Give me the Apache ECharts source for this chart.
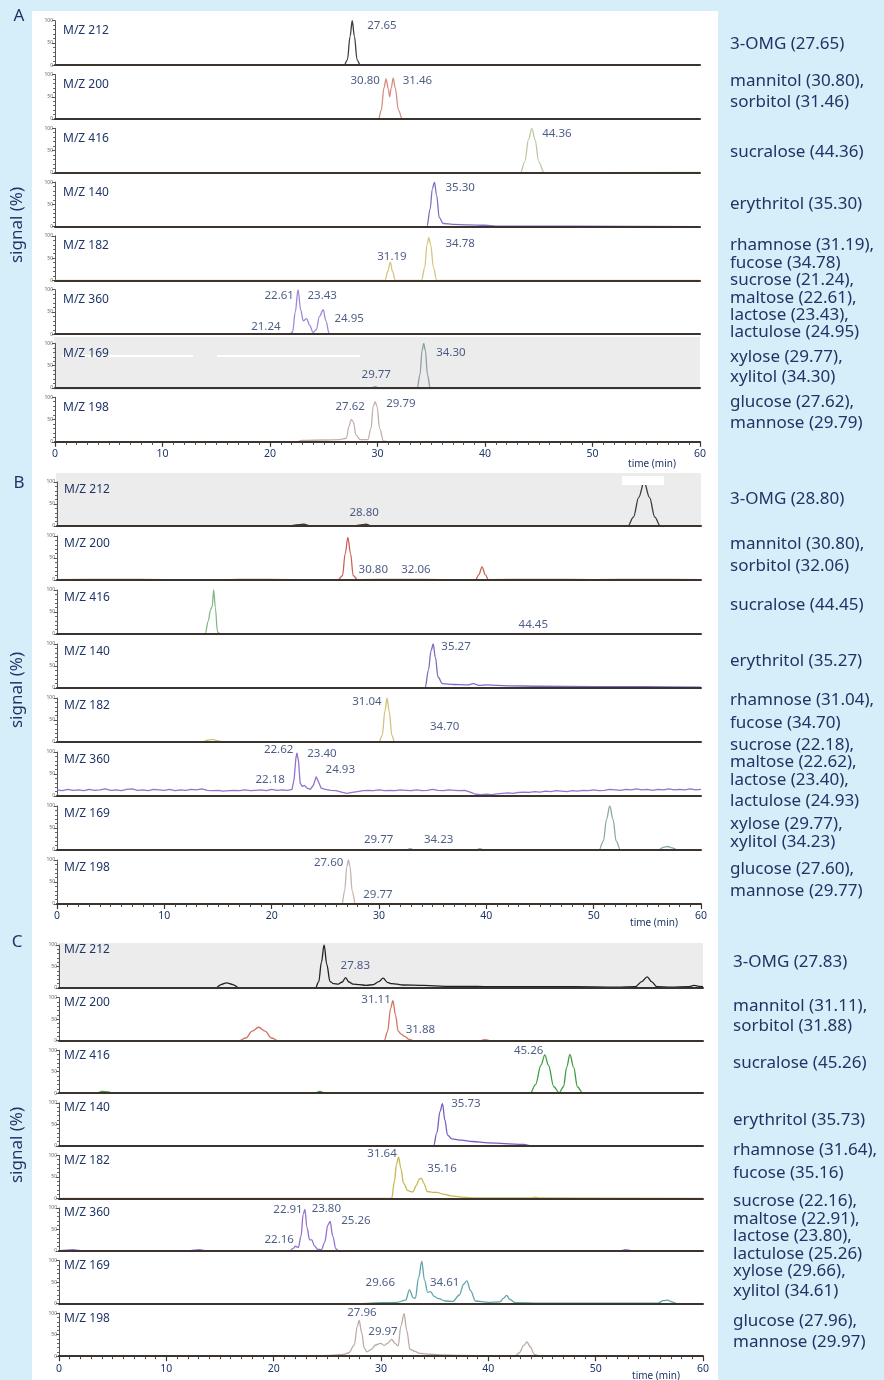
<!DOCTYPE html>
<html>
<head>
<meta charset="utf-8">
<title>Sugar probes – extracted ion chromatograms</title>
<script src="https://cdn.jsdelivr.net/npm/echarts@6/dist/echarts.min.js"></script>
<style>
  html, body { margin: 0; padding: 0; background: #d6eef9; }
  #chart { width: 884px; height: 1380px; }
</style>
</head>
<body>
<div id="chart"></div>
<script>
// ---------------- data ----------------
const mzLabels = ['M/Z 212', 'M/Z 200', 'M/Z 416', 'M/Z 140', 'M/Z 182', 'M/Z 360', 'M/Z 169', 'M/Z 198'];
const timeTicks = [0, 10, 20, 30, 40, 50, 60];

// Panel A – [time (min), signal (%)]
const A_mz212 = [[0,0],[26.9,0],[27.2,12],[27.45,65],[27.65,100],[27.85,65],[28.1,12],[28.4,0],[60,0]];
const A_mz200 = [[0,0],[30.1,0],[30.35,20],[30.6,70],[30.8,90],[31.0,68],[31.13,50],[31.28,70],[31.46,92],[31.65,70],[31.95,20],[32.3,0],[60,0]];
const A_mz416 = [[0,0],[43.3,0],[43.7,25],[44.05,75],[44.36,100],[44.65,75],[45.0,25],[45.5,0],[60,1]];
const A_mz140 = [[0,0],[34.6,0],[34.9,40],[35.1,85],[35.3,100],[35.5,70],[35.75,20],[36.1,7],[37,5],[38.5,4],[40,3],[41,1],[60,0]];
const A_mz182 = [[0,0],[30.7,0],[30.95,20],[31.19,41],[31.4,20],[31.65,0],[34.1,0],[34.4,30],[34.6,80],[34.78,96],[34.95,80],[35.2,30],[35.5,0],[60,0]];
const A_mz360 = [[0,0],[21.8,0],[22.1,5],[22.35,50],[22.61,100],[22.85,55],[23.1,30],[23.4,35],[23.7,20],[24.0,4],[24.3,10],[24.6,40],[24.95,55],[25.2,30],[25.5,2],[26,0],[60,0]];
const A_mz169 = [[0,0],[29.4,0],[29.77,3],[30.2,0],[33.7,0],[33.95,30],[34.15,85],[34.3,100],[34.45,85],[34.65,30],[34.9,0],[60,0]];
const A_mz198 = [[0,0],[22.5,0],[23,3],[25,4],[26.5,5],[27.1,8],[27.35,35],[27.55,50],[27.75,45],[28.0,15],[28.4,5],[29.1,5],[29.4,30],[29.6,80],[29.79,90],[29.95,80],[30.2,30],[30.55,2],[31,0],[60,0]];

// Panel B
const B_mz212 = [[0,0],[21.5,0],[22.5,3],[23.0,4],[23.5,1],[27.5,0],[28.5,3],[28.8,4],[29.2,1],[33,0],[53.2,0],[53.7,20],[54.2,65],[54.7,100],[55.2,65],[55.7,20],[56.2,0],[60,0]];
const B_mz200 = [[0,1],[5,1.5],[10,1],[14,0.5],[17,1.5],[22,1],[26.2,1],[26.6,10],[26.85,60],[27.1,97],[27.35,60],[27.6,10],[28.0,1],[32,1.5],[36,1],[39.0,1],[39.3,12],[39.6,30],[39.9,12],[40.2,1],[45,1.5],[50,1],[55,1.5],[60,1]];
const B_mz416 = [[0,0],[13.8,0],[14.1,30],[14.3,55],[14.45,62],[14.6,100],[14.75,60],[14.95,5],[15.2,0],[60,0]];
const B_mz140 = [[0,0],[34.3,0],[34.6,40],[34.85,85],[35.05,100],[35.25,70],[35.5,25],[35.9,10],[37,8],[38.2,7],[38.8,10],[39.3,6],[40,7],[42,5],[45,4],[50,3],[55,3],[60,2]];
const B_mz182 = [[0,0],[13.6,0],[14.0,4],[14.5,6],[15.0,3],[15.4,0],[30.0,0],[30.3,15],[30.55,70],[30.75,100],[30.95,70],[31.2,15],[31.45,0],[59,0]];
const B_mz360 = [[0,14],[0.5,12],[1,15],[1.5,13],[2,14],[2.5,12],[3,15],[3.5,13],[4,14],[4.5,16],[5,13],[5.5,14],[6,12],[6.5,15],[7,16],[7.5,13],[8,14],[8.5,12],[9,15],[9.5,14],[10,13],[10.5,15],[11,12],[11.5,14],[12,13],[12.5,15],[13,14],[13.5,16],[14,13],[14.5,12],[15,13],[15.5,11],[16,12],[16.5,13],[17,12],[17.5,14],[18,12],[18.5,13],[19,14],[19.5,12],[20,15],[20.5,13],[21,14],[21.5,13],[21.9,15],[22.1,40],[22.25,85],[22.35,98],[22.5,80],[22.65,30],[22.85,22],[23.05,24],[23.3,18],[23.6,15],[23.9,25],[24.15,44],[24.4,30],[24.6,18],[25,15],[25.5,13],[26,12],[26.5,9],[27,6],[27.5,8],[28,10],[28.5,12],[29,13],[29.5,12],[30,14],[30.5,12],[31,13],[31.5,12],[32,14],[32.5,13],[33,12],[33.5,14],[34,12],[34.5,13],[35,15],[35.5,13],[36,12],[36.5,14],[37,13],[37.5,12],[38,13],[38.5,9],[39,4],[39.5,3],[40,4],[40.5,3],[41,5],[41.5,6],[42,7],[42.5,6],[43,8],[43.5,9],[44,8],[44.5,10],[45,9],[45.5,11],[46,10],[46.5,12],[47,11],[47.5,10],[48,12],[48.5,11],[49,13],[49.5,12],[50,14],[50.5,12],[51,13],[51.5,15],[52,14],[52.5,13],[53,15],[53.5,14],[54,16],[54.5,14],[55,15],[55.5,13],[56,15],[56.5,14],[57,16],[57.5,14],[58,15],[58.5,14],[59,16],[59.5,14],[60,15]];
const B_mz169 = [[0,0],[32.5,0],[32.9,3],[33.3,0],[39.0,0],[39.4,3],[39.8,0],[50.5,0],[50.9,20],[51.2,70],[51.5,100],[51.8,70],[52.1,20],[52.5,0],[56.0,0],[56.5,6],[56.9,8],[57.3,5],[57.8,0],[60,0]];
const B_mz198 = [[0,0],[26.55,0],[26.8,30],[27.0,85],[27.15,100],[27.3,85],[27.5,30],[27.8,0],[60,0]];

// Panel C
const C_mz212 = [[0,0],[14.6,0],[15.1,8],[15.6,12],[16.2,8],[16.8,0],[23.9,0],[24.2,15],[24.45,60],[24.7,100],[24.95,55],[25.25,15],[25.6,10],[26.0,9],[26.4,14],[26.7,24],[27.0,14],[27.4,9],[28.0,8],[28.6,6],[29.3,8],[29.8,15],[30.2,23],[30.6,13],[31.0,10],[31.5,9],[32,7],[34,6],[36,4],[38,4],[40,3],[44,3],[48,3],[52,2],[53.7,3],[54.3,15],[54.8,26],[55.2,15],[55.7,3],[57,2],[58.6,3],[59.2,6],[59.6,4],[60,3]];
const C_mz200 = [[0,0],[16.8,0],[17.4,6],[18.0,22],[18.6,31],[19.2,22],[19.8,6],[20.4,0],[30.3,0],[30.6,20],[30.9,75],[31.11,93],[31.35,60],[31.6,22],[31.88,15],[32.2,10],[32.6,3],[33,0],[39.2,0],[39.7,2.5],[40.2,0],[60,0]];
const C_mz416 = [[0,0],[3.5,0],[4.0,4],[4.6,3],[5.0,0],[23.8,0],[24.3,4],[24.8,0],[43.9,0],[44.4,20],[44.9,65],[45.26,89],[45.6,65],[46.1,15],[46.6,1],[47.0,15],[47.3,60],[47.6,90],[47.95,60],[48.3,15],[48.8,0],[60,0]];
const C_mz140 = [[0,0],[34.9,0],[35.2,30],[35.5,80],[35.73,98],[35.95,60],[36.2,25],[36.6,16],[37.5,13],[38.5,10],[40,7],[41.5,5],[43.3,3],[44,0],[60,0]];
const C_mz182 = [[0,0],[31.0,0],[31.25,40],[31.45,80],[31.64,96],[31.85,70],[32.1,35],[32.5,18],[32.95,15],[33.3,30],[33.55,45],[33.75,47],[34.0,35],[34.3,16],[34.8,14],[35.2,14],[35.8,10],[36.5,6],[37.5,3],[39,1],[44,1],[44.4,3],[44.8,1],[60,0]];
const C_mz360 = [[0,0],[0.6,2],[1.3,3],[2,1],[3,0],[12.0,0],[12.5,2],[13.1,3],[13.6,1],[14.2,0],[21.5,0],[21.8,6],[22.05,11],[22.3,8],[22.55,35],[22.75,85],[22.91,97],[23.1,55],[23.35,26],[23.55,26],[23.8,12],[24.1,4],[24.45,3],[24.75,20],[25.05,60],[25.26,69],[25.5,35],[25.8,5],[26.1,0],[52.2,0],[52.8,3],[53.3,1],[60,0]];
const C_mz169 = [[0,0],[28,0],[30.2,2],[31.5,3],[32.3,8],[32.65,32],[33.0,14],[33.2,12],[33.5,60],[33.8,98],[34.05,55],[34.35,26],[34.61,28],[34.95,17],[35.3,12],[36,6],[36.7,5],[37.3,20],[37.7,45],[38.0,53],[38.35,30],[38.8,6],[40,3],[41.1,4],[41.4,12],[41.7,19],[42.0,10],[42.5,2],[45,1],[55.8,1],[56.3,7],[56.7,8],[57.1,4],[57.6,0],[60,0]];
const C_mz198 = [[0,0],[22,0],[24,1],[25.3,2],[26.5,4],[27,8],[27.5,25],[27.8,70],[27.96,84],[28.2,55],[28.45,18],[28.7,10],[29.1,16],[29.5,26],[29.97,30],[30.3,25],[30.6,30],[31.0,39],[31.3,30],[31.6,24],[31.85,70],[32.15,99],[32.4,60],[32.7,16],[33.2,11],[33.5,7],[34.3,5],[35.5,3],[37.5,2],[40,1],[42.5,1],[42.9,8],[43.3,25],[43.6,33],[43.9,22],[44.3,4],[44.8,0],[60,0]];

// Retention-time annotations written next to the peaks, one list per trace
const A_peakText = [['27.65'], ['30.80', '31.46'], ['44.36'], ['35.30'], ['31.19', '34.78'], ['22.61', '23.43', '21.24', '24.95'], ['29.77', '34.30'], ['27.62', '29.79']];
const B_peakText = [['28.80'], ['30.80', '32.06'], ['44.45'], ['35.27'], ['31.04', '34.70'], ['22.62', '23.40', '22.18', '24.93'], ['29.77', '34.23'], ['27.60', '29.77']];
const C_peakText = [['27.83'], ['31.11', '31.88'], ['45.26'], ['35.73'], ['31.64', '35.16'], ['22.91', '23.80', '25.26', '22.16'], ['29.66', '34.61'], ['27.96', '29.97']];

// Compound key printed at the right of each panel
const A_compounds = ['3-OMG (27.65)', 'mannitol (30.80),', 'sorbitol (31.46)', 'sucralose (44.36)', 'erythritol (35.30)', 'rhamnose (31.19),', 'fucose (34.78)', 'sucrose (21.24),', 'maltose (22.61),', 'lactose (23.43),', 'lactulose (24.95)', 'xylose (29.77),', 'xylitol (34.30)', 'glucose (27.62),', 'mannose (29.79)'];
const B_compounds = ['3-OMG (28.80)', 'mannitol (30.80),', 'sorbitol (32.06)', 'sucralose (44.45)', 'erythritol (35.27)', 'rhamnose (31.04),', 'fucose (34.70)', 'sucrose (22.18),', 'maltose (22.62),', 'lactose (23.40),', 'lactulose (24.93)', 'xylose (29.77),', 'xylitol (34.23)', 'glucose (27.60),', 'mannose (29.77)'];
const C_compounds = ['3-OMG (27.83)', 'mannitol (31.11),', 'sorbitol (31.88)', 'sucralose (45.26)', 'erythritol (35.73)', 'rhamnose (31.64),', 'fucose (35.16)', 'sucrose (22.16),', 'maltose (22.91),', 'lactose (23.80),', 'lactulose (25.26)', 'xylose (29.66),', 'xylitol (34.61)', 'glucose (27.96),', 'mannose (29.97)'];

// ---------------- layout & style ----------------
const NAVY = '#1f3566';
const FONT = 'Noto Sans';

// where each peak annotation sits, in axis units [time, % level] (left edge, vertical centre)
const A_peakTextAt = [[[29.0, 88]], [[27.44, 85], [32.3, 85]], [[45.27, 87]], [[36.28, 87]], [[29.93, 53], [36.28, 82]], [[19.44, 86], [23.44, 86], [18.2, 16], [25.95, 34]], [[28.47, 29], [35.41, 79]], [[26.05, 78], [30.76, 85]]];
const B_peakTextAt = [[[27.2, 30]], [[28.05, 23], [32.03, 23]], [[42.96, 20]], [[35.76, 94]], [[27.46, 91], [34.7, 35]], [[19.23, 105], [23.27, 95], [18.45, 36], [24.98, 59]], [[28.55, 24], [34.14, 24]], [[23.89, 94], [28.49, 20]]];
const C_peakTextAt = [[[26.19, 52]], [[28.12, 94], [32.25, 25]], [[42.34, 99]], [[36.5, 97]], [[28.68, 103], [34.27, 70]], [[19.92, 95], [23.49, 99], [26.25, 70], [19.1, 26]], [[28.52, 49], [34.51, 49]], [[26.81, 101], [28.77, 57]]];

// vertical centre (px) of each line of the compound key
const A_keyY = [44, 81, 102, 152, 204, 245, 263, 280, 298, 315, 332, 357, 377, 402, 423];
const B_keyY = [499, 544, 566, 605, 661, 700, 723, 745, 762, 780, 801, 824, 842, 869, 891];
const C_keyY = [962, 1006, 1026, 1063, 1120, 1150, 1173, 1201, 1219, 1236, 1254, 1271, 1291, 1321, 1342];

const panels = [
  { letter: 'A', letterPos: [19, 16], left: 55, right: 700, top: 20.7, pitch: 53.8, height: 44.5, mzDy: 10, mzX: 63,
    signalY: 225, timeLabel: [652, 464], keyX: 730,
    traces: [A_mz212, A_mz200, A_mz416, A_mz140, A_mz182, A_mz360, A_mz169, A_mz198],
    colors: ['#3d3d3d', '#d58d80', '#b9caa0', '#8070c0', '#d6c57e', '#a087d8', '#8fa0a2', '#c5b0ae'],
    peakText: A_peakText, peakTextAt: A_peakTextAt, compounds: A_compounds, keyY: A_keyY },
  { letter: 'B', letterPos: [19, 483], left: 57, right: 701, top: 482, pitch: 54, height: 44, mzDy: 8, mzX: 64,
    signalY: 690, timeLabel: [654, 923], keyX: 730,
    traces: [B_mz212, B_mz200, B_mz416, B_mz140, B_mz182, B_mz360, B_mz169, B_mz198],
    colors: ['#3a3a3a', '#c86454', '#86b884', '#7f6cc0', '#d2c27a', '#9474cc', '#8aa8a8', '#c3b3b0'],
    peakText: B_peakText, peakTextAt: B_peakTextAt, compounds: B_compounds, keyY: B_keyY },
  { letter: 'C', letterPos: [17, 942], left: 59, right: 703, top: 945, pitch: 52.6, height: 43, mzDy: 5, mzX: 64,
    signalY: 1145, timeLabel: [656, 1376], keyX: 733,
    traces: [C_mz212, C_mz200, C_mz416, C_mz140, C_mz182, C_mz360, C_mz169, C_mz198],
    colors: ['#222222', '#d27262', '#3f9c42', '#7a5cc0', '#c9b755', '#9470cc', '#5fa4aa', '#bfa9a6'],
    peakText: C_peakText, peakTextAt: C_peakTextAt, compounds: C_compounds, keyY: C_keyY }
];

// ---------------- build option ----------------
const grids = [], xAxes = [], yAxes = [], series = [];
const graphics = [
  // white figure area
  { type: 'rect', shape: { x: 32, y: 11, width: 686, height: 1369 }, style: { fill: '#ffffff' }, z: -30 },
  // shaded traces
  { type: 'rect', shape: { x: 54, y: 337, width: 646, height: 53 }, style: { fill: '#ececec' }, z: -20 },
  { type: 'rect', shape: { x: 62, y: 355, width: 131, height: 2 }, style: { fill: '#ffffff' }, z: -19 },
  { type: 'rect', shape: { x: 217, y: 355, width: 143, height: 2 }, style: { fill: '#ffffff' }, z: -19 },
  { type: 'rect', shape: { x: 56, y: 473, width: 645, height: 53 }, style: { fill: '#ececec' }, z: -20 },
  { type: 'rect', shape: { x: 58, y: 943, width: 645, height: 45 }, style: { fill: '#ececec' }, z: -20 }
];

let gi = 0;
panels.forEach((p) => {
  p.traces.forEach((trace, r) => {
    const top = p.top + p.pitch * r;
    const isBottom = r === p.traces.length - 1;
    grids.push({ left: p.left, width: p.right - p.left, top: top, height: p.height });
    xAxes.push({
      gridIndex: gi, type: 'value', min: 0, max: 60, interval: 10, z: 5,
      axisLine: { show: true, lineStyle: { color: '#3b332e', width: 2 } },
      axisTick: { show: isBottom, length: 5, inside: false, lineStyle: { color: '#3b332e', width: 1.2 } },
      minorTick: { show: isBottom, splitNumber: 10, length: 3, lineStyle: { color: '#4a423c' } },
      axisLabel: { show: isBottom, color: NAVY, fontSize: 10.5, fontFamily: FONT, margin: 7,
        customValues: timeTicks },
      splitLine: { show: false }
    });
    yAxes.push({
      gridIndex: gi, type: 'value', min: 0, max: 100, interval: 50,
      axisLine: { show: true, lineStyle: { color: '#555', width: 1 } },
      axisTick: { show: true, length: 3, lineStyle: { color: '#555' } },
      minorTick: { show: true, splitNumber: 5, length: 2, lineStyle: { color: '#666' } },
      axisLabel: { show: true, fontSize: 5, color: '#666', margin: 2, fontFamily: FONT },
      splitLine: { show: false }
    });
    series.push({
      type: 'line', xAxisIndex: gi, yAxisIndex: gi, data: trace,
      showSymbol: false, smooth: trace === B_mz360 ? false : 0.35, smoothMonotone: 'x',
      lineStyle: { color: p.colors[r], width: 1.3 }, z: 3, silent: true, animation: false
    });
    series.push({
      type: 'scatter', xAxisIndex: gi, yAxisIndex: gi, symbolSize: 1, clip: false,
      itemStyle: { color: 'rgba(0,0,0,0)' }, silent: true, animation: false, z: 4,
      data: p.peakTextAt[r].map((pos, j) => ({ value: pos, name: p.peakText[r][j] })),
      label: { show: true, position: 'right', distance: 0, formatter: '{b}',
        color: NAVY, fontSize: 11.5, fontFamily: FONT }
    });
    graphics.push({ type: 'text', x: p.mzX, y: top + p.mzDy,
      style: { text: mzLabels[r], fill: NAVY, font: '12px "' + FONT + '"', textVerticalAlign: 'middle' }, z: 5 });
    gi++;
  });

  // panel letter, axis titles, compound key
  graphics.push({ type: 'text', x: p.letterPos[0], y: p.letterPos[1],
    style: { text: p.letter, fill: NAVY, font: '17px "' + FONT + '"', textAlign: 'center', textVerticalAlign: 'middle' } });
  graphics.push({ type: 'text', x: 17, y: p.signalY, rotation: Math.PI / 2,
    style: { text: 'signal (%)', fill: NAVY, font: '17px "' + FONT + '"', textAlign: 'center', textVerticalAlign: 'middle' } });
  graphics.push({ type: 'text', x: p.timeLabel[0], y: p.timeLabel[1],
    style: { text: 'time (min)', fill: NAVY, font: '10px "' + FONT + '"', textAlign: 'center', textVerticalAlign: 'middle' }, z: 5 });
  p.compounds.forEach((t, k) => {
    graphics.push({ type: 'text', x: p.keyX, y: p.keyY[k],
      style: { text: t, fill: NAVY, font: '17px "' + FONT + '"', textVerticalAlign: 'middle' } });
  });
});

// the white block over the top of the last 3-OMG peak in panel B
graphics.push({ type: 'rect', shape: { x: 622, y: 476, width: 42, height: 9 }, style: { fill: '#ffffff' }, z: 10 });

const chart = echarts.init(document.getElementById('chart'), null, { renderer: 'canvas' });
chart.setOption({
  backgroundColor: '#d6eef9',
  animation: false,
  grid: grids,
  xAxis: xAxes,
  yAxis: yAxes,
  series: series,
  graphic: graphics
});
</script>
</body>
</html>
